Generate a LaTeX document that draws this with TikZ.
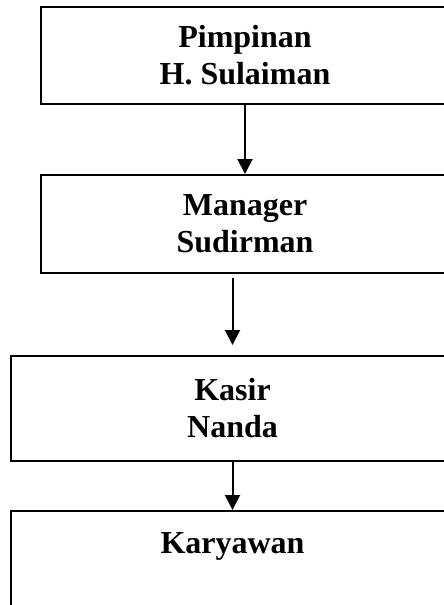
\documentclass[tikz,border=0pt]{standalone}
\usepackage{fontspec}
\setmainfont{Liberation Serif}
\usetikzlibrary{positioning,arrows.meta}

\tikzset{
  jabatan/.style={draw, line width=2pt, align=center, inner sep=0pt,
    font=\fontsize{32}{37}\selectfont\bfseries},
  garis/.style={line width=2pt, -{Triangle[width=15pt,length=15pt]}}
}

\begin{document}
\begin{tikzpicture}
    \useasboundingbox (0,0) rectangle (444pt,-605pt);

    \node[jabatan, minimum width=408pt, minimum height=97pt] (pimpinan) at (245pt,-55.5pt) {Pimpinan\\H. Sulaiman};
    \node[jabatan, minimum width=408pt, minimum height=98pt, below=69pt of pimpinan] (manager) {Manager\\Sudirman};
    \node[jabatan, minimum width=443pt, minimum height=105pt, below=81pt of manager, xshift=-12.5pt] (kasir) {Kasir\\Nanda};
    \node[jabatan, minimum width=443pt, text height=42pt, text depth=80pt, below=48pt of kasir] (karyawan) {Karyawan};

    \draw[garis] (pimpinan.south) -- (manager.north);
    \draw[garis, shorten <=4pt, shorten >=10pt] (manager.south -| kasir.north) -- (kasir.north);
    \draw[garis] (kasir.south) -- (karyawan.north);
\end{tikzpicture}
\end{document}
